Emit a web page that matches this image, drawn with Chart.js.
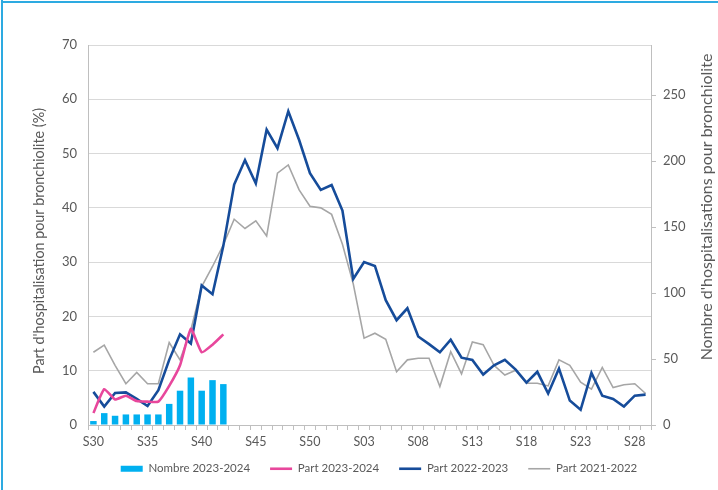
<!DOCTYPE html>
<html><head><meta charset="utf-8">
<script src="https://cdn.jsdelivr.net/npm/chart.js@4.4.0/dist/chart.umd.min.js"></script>
<style>html,body{margin:0;padding:0;background:#fff}#wrap{width:718px;height:490px;position:relative}</style>
</head><body><div id="wrap"><canvas id="c" width="718" height="490"></canvas></div>
<script>
const weeks = ['S30','S31','S32','S33','S34','S35','S36','S37','S38','S39','S40','S41','S42','S43','S44','S45','S46','S47','S48','S49','S50','S51','S52',
  'S01','S02','S03','S04','S05','S06','S07','S08','S09','S10','S11','S12','S13','S14','S15','S16','S17','S18','S19','S20','S21','S22','S23','S24','S25','S26','S27','S28','S29'];
const shownWeekLabels = ['S30','S35','S40','S45','S50','S03','S08','S13','S18','S23','S28'];
const nombre2324 = [3, 9, 7, 8, 8, 8, 8, 16, 26, 36, 26, 34, 31];
const part2324 = [2.2, 6.6, 4.7, 5.4, 4.4, 4.3, 4.3, 7.2, 11.0, 17.7, 13.4, 14.8, 16.7];
const part2223 = [6.1, 3.4, 5.9, 6.0, 4.8, 3.5, 6.4, 12.0, 16.7, 15.0, 25.7, 24.1, 33.0, 44.3, 48.8, 44.5, 54.4, 51.0, 57.8, 52.5, 46.4, 43.3, 44.2,
  39.5, 26.9, 30.0, 29.3, 23.0, 19.3, 21.5, 16.3, 14.9, 13.4, 15.7, 12.4, 12.0, 9.3, 11.0, 12.0, 10.2, 7.8, 9.8, 5.8, 10.4, 4.5, 2.8, 9.6, 5.4, 4.8, 3.4, 5.4, 5.6];
const part2122 = [13.4, 14.7, 11.0, 7.6, 9.7, 7.6, 7.6, 15.2, 12.0, 17.5, 25.5, 29.2, 33.2, 37.9, 36.2, 37.6, 34.8, 46.4, 47.9, 43.3, 40.3, 40.0, 38.8,
  33.3, 26.0, 16.0, 16.9, 15.8, 9.8, 12.0, 12.3, 12.3, 7.1, 13.5, 9.4, 15.3, 14.8, 11.0, 9.2, 10.1, 7.7, 7.7, 7.2, 12.0, 11.0, 7.9, 6.6, 10.6, 6.9, 7.4, 7.6, 5.8];
const leftTicks = [0, 10, 20, 30, 40, 50, 60, 70];
const rightTicks = [0, 50, 100, 150, 200, 250];
const leftTitle = "Part d'hospitalisation pour bronchiolite (%)";
const rightTitle = "Nombre d'hospitalisations pour bronchiolite";

const FONT = 'Lato, "Open Sans", sans-serif';
const TXT = '#595959';

function drawVerticalTitle(ctx, text, cx, cy, targetLen) {
  ctx.save();
  ctx.font = '12px ' + FONT;
  const w = ctx.measureText(text).width;
  const size = Math.max(10, Math.min(16, 12 * targetLen / w));
  ctx.font = size.toFixed(2) + 'px ' + FONT;
  ctx.fillStyle = TXT;
  ctx.textAlign = 'center';
  ctx.textBaseline = 'middle';
  ctx.translate(cx, cy);
  ctx.rotate(-Math.PI / 2);
  ctx.fillText(text, 0, 0);
  ctx.restore();
}

const decor = {
  id: 'decor',
  afterLayout(chart) {
    const lg = chart.legend;
    if (lg) {
      lg.left += 20; lg.right += 20;
      const h = lg.bottom - lg.top;
      lg.top = 443; lg.bottom = lg.top + h;
    }
  },
  afterDraw(chart) {
    const ctx = chart.ctx;
    ctx.save();
    ctx.fillStyle = '#2DAAE1';
    ctx.fillRect(1, 0, 2, 490);
    ctx.fillRect(1, 1, 717, 2);
    ctx.restore();
    drawVerticalTitle(ctx, leftTitle, 39, 241, 266);
    drawVerticalTitle(ctx, rightTitle, 707, 207, 312);
  }
};

new Chart(document.getElementById('c'), {
  type: 'bar',
  data: {
    labels: weeks,
    datasets: [
      { type: 'bar', label: 'Nombre 2023-2024', data: nombre2324, yAxisID: 'y1', backgroundColor: '#00B0F0', borderWidth: 0, barPercentage: 0.6, categoryPercentage: 1, order: 4 },
      { type: 'line', label: 'Part 2023-2024', data: part2324, yAxisID: 'y', borderColor: '#E8479C', backgroundColor: '#E8479C', borderWidth: 2.6, pointRadius: 0, tension: 0.15, order: 1 },
      { type: 'line', label: 'Part 2022-2023', data: part2223, yAxisID: 'y', borderColor: '#164C9A', backgroundColor: '#164C9A', borderWidth: 2.6, pointRadius: 0, tension: 0, order: 2 },
      { type: 'line', label: 'Part 2021-2022', data: part2122, yAxisID: 'y', borderColor: '#A6A6A6', backgroundColor: '#A6A6A6', borderWidth: 1.6, pointRadius: 0, tension: 0, order: 3 }
    ]
  },
  options: {
    responsive: false,
    animation: false,
    layout: { padding: { left: 0, right: 0, top: 45, bottom: 0 } },
    plugins: {
      tooltip: { enabled: false },
      legend: {
        position: 'bottom',
        maxHeight: 35,
        labels: {
          font: { family: FONT, size: 11.5 },
          color: TXT,
          usePointStyle: true,
          pointStyleWidth: 22,
          boxHeight: 6,
          padding: 20,
          sort: (a, b) => a.datasetIndex - b.datasetIndex,
          generateLabels(chart) {
            const items = Chart.defaults.plugins.legend.labels.generateLabels(chart);
            items.forEach(it => {
              if (it.datasetIndex === 0) { it.pointStyle = 'rect'; it.lineWidth = 0; }
              else { it.pointStyle = 'line'; it.strokeStyle = chart.data.datasets[it.datasetIndex].borderColor; it.lineWidth = chart.data.datasets[it.datasetIndex].borderWidth; }
            });
            return items;
          }
        }
      }
    },
    scales: {
      x: {
        offset: true,
        grid: { offset: true, drawOnChartArea: false, drawTicks: true, tickLength: 5, color: '#BFBFBF' },
        border: { display: true, color: '#BFBFBF' },
        ticks: {
          autoSkip: false, maxRotation: 0, minRotation: 0, padding: 4,
          font: { family: FONT, size: 12.5 }, color: TXT,
          callback: (v, i) => shownWeekLabels.includes(weeks[i]) ? weeks[i] : ''
        },
        afterFit: s => { s.height = 30; }
      },
      y: {
        position: 'left', min: 0, max: 70,
        afterBuildTicks: s => { s.ticks = leftTicks.map(v => ({ value: v })); },
        grid: { color: '#D9D9D9', drawTicks: false },
        border: { display: true, color: '#BFBFBF' },
        ticks: { padding: 11, font: { family: FONT, size: 13 }, color: TXT },
        afterFit: s => { s.width = 88; }
      },
      y1: {
        position: 'right', min: 0, max: 288,
        afterBuildTicks: s => { s.ticks = rightTicks.map(v => ({ value: v })); },
        grid: { drawOnChartArea: false, drawTicks: true, tickLength: 5, color: '#BFBFBF' },
        border: { display: true, color: '#BFBFBF' },
        ticks: { padding: 7, font: { family: FONT, size: 13 }, color: TXT },
        afterFit: s => { s.width = 67; }
      }
    }
  },
  plugins: [decor]
});
</script>
</body></html>
